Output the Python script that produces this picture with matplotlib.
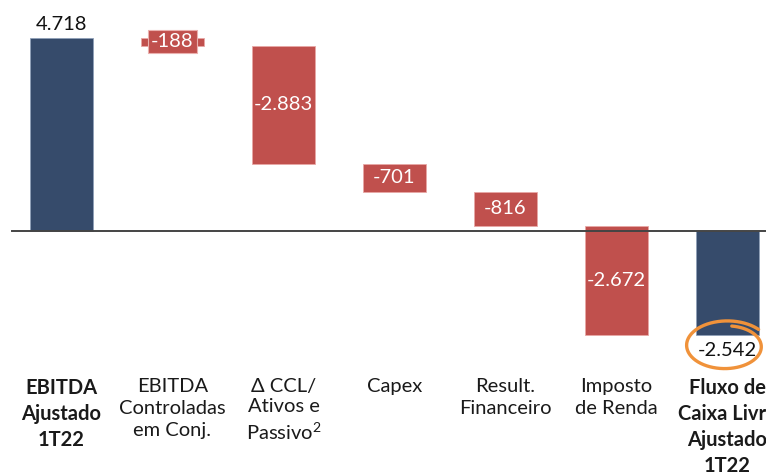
import numpy as np
import matplotlib
matplotlib.use("Agg")
import matplotlib.pyplot as plt

plt.rcParams['font.family'] = ['Lato', 'DejaVu Sans']
plt.rcParams['mathtext.fontset'] = 'custom'
plt.rcParams['mathtext.rm'] = 'Lato'

# data
categories = ["EBITDA\nAjustado\n1T22", "EBITDA\nControladas\nem Conj.",
              "Δ CCL/\nAtivos e\nPassivo$^{\\mathrm{2}}$", "Capex", "Result.\nFinanceiro",
              "Imposto\nde Renda", "Fluxo de\nCaixa Livre\nAjustado\n1T22"]
steps = [4718, -188, -2883, -701, -816, -2672]
bold_idx = [0, 6]

NAVY = "#364B6B"
RED = "#C0504D"

total = sum(steps)
tops = np.cumsum(steps)
starts = np.concatenate([[0], tops[:-1]])

W, H = 766, 475
fig = plt.figure(figsize=(W / 100, H / 100), dpi=100)
# plot area covers figure top down to y=372px
ax = fig.add_axes([0, 1 - 372 / H, 1, 372 / H])
upp = 24.45  # units per pixel
ax.set_ylim(-(372 - 231) * upp, 231 * upp)
ax.set_xlim(-0.554, 6.347)
bw = 0.568

def fmt(v):
    return f"{v:,}".replace(",", ".")

# first bar
ax.bar(0, steps[0], width=bw, color=NAVY, edgecolor="#8fa0b8", linewidth=0.6, zorder=2)
ax.text(0, steps[0] + 14 * upp, fmt(steps[0]), ha="center", va="center",
        fontsize=14.5, color="#111111", zorder=4)

# intermediate steps
for i in range(1, len(steps)):
    lo, hi = sorted([starts[i], tops[i]])
    ax.bar(i, hi - lo, bottom=lo, width=bw, color=RED, edgecolor="#e8a8a6",
           linewidth=0.6, zorder=2)
    mid = (lo + hi) / 2
    if abs(steps[i]) < 400:
        ax.text(i, mid, fmt(steps[i]), ha="center", va="center", fontsize=14.5,
                color="white", zorder=4,
                bbox=dict(boxstyle="square,pad=0.15", facecolor=RED,
                          edgecolor="#eab0ae", linewidth=0.8))
    else:
        ax.text(i, mid, fmt(steps[i]), ha="center", va="center", fontsize=14.5,
                color="white", zorder=4)

# final total
n = len(steps)
ax.bar(n, total, width=bw, color=NAVY, edgecolor="#8fa0b8", linewidth=0.6, zorder=2)
ax.text(n, total - 16 * upp, fmt(total), ha="center", va="center",
        fontsize=14.5, color="#111111", zorder=4)

# zero line
ax.axhline(0, xmin=12 / W, xmax=1, color="#444444", linewidth=1.4, zorder=3)

# category labels
ax.set_xticks(range(len(categories)))
ax.set_xticklabels(categories, fontsize=14.5, color="#1a1a1a", linespacing=1.38)
for i, lab in enumerate(ax.get_xticklabels()):
    if i in bold_idx:
        lab.set_fontweight("bold")
    if i == 2:
        # superscript line is taller, tighten a bit
        lab.set_linespacing(1.28)
ax.tick_params(axis="x", length=0, pad=4)
ax.set_yticks([])
for s in ax.spines.values():
    s.set_visible(False)
ax.patch.set_alpha(0)

# hand-drawn orange circle around the final value
cx, cy, rx, ry = 726, 346, 38, 23
a = np.radians(np.linspace(80, -320, 300))
grow = np.linspace(0.88, 1.12, a.size)
xs = cx + rx * grow * np.cos(a)
ys = cy - ry * grow * np.sin(a)
ax.plot(xs / W, 1 - ys / H, transform=fig.transFigure, color="#F0923A",
        linewidth=2.4, solid_capstyle="round", clip_on=False, zorder=5)

fig.savefig("out.png", dpi=100)
